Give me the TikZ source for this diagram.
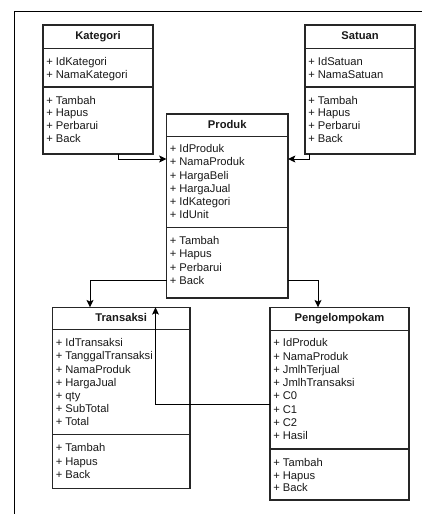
\documentclass[tikz,border=0pt]{standalone}
\usepackage{fontspec}
\setmainfont{Liberation Sans}
\usetikzlibrary{arrows.meta,calc}
\begin{document}
\begin{tikzpicture}[x=0.75pt,y=-0.75pt,
  box/.style={draw=black!85, line width=0.8pt, fill=white, inner sep=0pt, outer sep=0pt, anchor=north west},
  sepline/.style={draw=black!85, line width=0.8pt},
  attr/.style={anchor=base west, inner sep=0pt, text=black!90, font=\fontsize{8.4}{10}\selectfont},
  head/.style={anchor=base, inner sep=0pt, text=black!90, font=\fontsize{8.4}{10}\selectfont\bfseries},
  conn/.style={draw=black, line width=0.75pt, -{Stealth[length=5.5pt,width=5.2pt,inset=1.2pt]}},
  frameline/.style={draw=black, line width=0.75pt}]
\useasboundingbox (0,0) rectangle (422,514);
% frame
\draw[frameline] (14,514) -- (14,11) -- (422,11);

% Kategori
\node[box, minimum width=82.5pt, minimum height=96.75pt] (kat) at (43,25) {};
\node[head] (kat-h) at ($(kat.north)+(0,14.7)$) {Kategori};
\draw[sepline] ($(kat.north west)+(0,23.5)$) -- ($(kat.north east)+(0,23.5)$);
\draw[sepline] ($(kat.north west)+(0,62)$) -- ($(kat.north east)+(0,62)$);
\foreach \t [count=\i from 0] in {+ IdKategori, + NamaKategori}
  \node[attr] (kat-a\i) at ($(kat.north west)+(3,40.7+12.6*\i)$) {\t};
\foreach \t [count=\i from 0] in {+ Tambah, + Hapus, + Perbarui, + Back}
  \node[attr] (kat-m\i) at ($(kat.north west)+(3,79+12.85*\i)$) {\t};

% Satuan
\node[box, minimum width=82.5pt, minimum height=96.75pt] (sat) at (305,25) {};
\node[head] (sat-h) at ($(sat.north)+(0,14.7)$) {Satuan};
\draw[sepline] ($(sat.north west)+(0,23.5)$) -- ($(sat.north east)+(0,23.5)$);
\draw[sepline] ($(sat.north west)+(0,62)$) -- ($(sat.north east)+(0,62)$);
\foreach \t [count=\i from 0] in {+ IdSatuan, + NamaSatuan}
  \node[attr] (sat-a\i) at ($(sat.north west)+(3,40.7+12.6*\i)$) {\t};
\foreach \t [count=\i from 0] in {+ Tambah, + Hapus, + Perbarui, + Back}
  \node[attr] (sat-m\i) at ($(sat.north west)+(3,79+12.85*\i)$) {\t};

% Produk
\node[box, minimum width=91.125pt, minimum height=138pt] (prod) at (166.5,114) {};
\node[head] (prod-h) at ($(prod.north)+(0,14)$) {Produk};
\draw[sepline] ($(prod.north west)+(0,22.3)$) -- ($(prod.north east)+(0,22.3)$);
\draw[sepline] ($(prod.north west)+(0,113.3)$) -- ($(prod.north east)+(0,113.3)$);
\foreach \t [count=\i from 0] in {+ IdProduk, + NamaProduk, + HargaBeli, + HargaJual, + IdKategori, + IdUnit}
  \node[attr] (prod-a\i) at ($(prod.north west)+(3,38.7+13.2*\i)$) {\t};
\foreach \t [count=\i from 0] in {+ Tambah, + Hapus, + Perbarui, + Back}
  \node[attr] (prod-m\i) at ($(prod.north west)+(3,130.7+13.2*\i)$) {\t};

% Transaksi
\node[box, minimum width=103.125pt, minimum height=135.75pt] (tran) at (52.5,307.3) {};
\node[head] (tran-h) at ($(tran.north)+(0,14)$) {Transaksi};
\draw[sepline] ($(tran.north west)+(0,22)$) -- ($(tran.north east)+(0,22)$);
\draw[sepline] ($(tran.north west)+(0,127)$) -- ($(tran.north east)+(0,127)$);
\foreach \t [count=\i from 0] in {+ IdTransaksi, + TanggalTransaksi, + NamaProduk, + HargaJual, + qty, + SubTotal, + Total}
  \node[attr] (tran-a\i) at ($(tran.north west)+(3,39.4+13.2*\i)$) {\t};
\foreach \t [count=\i from 0] in {+ Tambah, + Hapus, + Back}
  \node[attr] (tran-m\i) at ($(tran.north west)+(3,144.4+13.3*\i)$) {\t};

% Pengelompokam
\node[box, minimum width=104.25pt, minimum height=144.5pt] (peng) at (270,307.3) {};
\node[head] (peng-h) at ($(peng.north)+(0,14)$) {Pengelompokam};
\draw[sepline] ($(peng.north west)+(0,23.3)$) -- ($(peng.north east)+(0,23.3)$);
\draw[sepline] ($(peng.north west)+(0,141.7)$) -- ($(peng.north east)+(0,141.7)$);
\foreach \t [count=\i from 0] in {+ IdProduk, + NamaProduk, + JmlhTerjual, + JmlhTransaksi, + C0, + C1, + C2, + Hasil}
  \node[attr] (peng-a\i) at ($(peng.north west)+(3,39.4+13.3*\i)$) {\t};
\foreach \t [count=\i from 0] in {+ Tambah, + Hapus, + Back}
  \node[attr] (peng-m\i) at ($(peng.north west)+(3,159+12.8*\i)$) {\t};

% connectors
\draw[conn] ($(kat.south west)+(75,0)$) |- ($(prod.north west)+(0,45)$);
\draw[conn] ($(sat.south west)+(4,0)$) |- ($(prod.north east)+(0,45)$);
\draw[conn] ($(prod.south west)+(0,-17.5)$) -| ($(tran.north west)+(37.5,0)$);
\draw[conn] ($(prod.south east)+(0,-17.5)$) -| ($(peng.north west)+(48,0)$);
\draw[conn] ($(peng.north west)+(0,97)$) -| ($(tran.north west)+(103,0)$);
\end{tikzpicture}
\end{document}
